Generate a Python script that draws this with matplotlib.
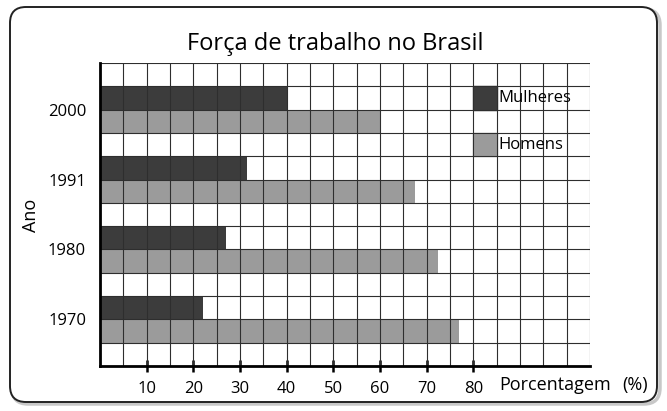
import numpy as np
import matplotlib
matplotlib.use("Agg")
import matplotlib.pyplot as plt
from matplotlib.patches import FancyBboxPatch, Rectangle
from matplotlib.transforms import IdentityTransform

plt.rcParams["font.family"] = ["Open Sans", "DejaVu Sans"]

# data
anos = ["1970", "1980", "1991", "2000"]
mulheres = [22, 27, 31.5, 40]
homens = [77, 72.5, 67.5, 60]

titulo = "Força de trabalho no Brasil"
xticks = [10, 20, 30, 40, 50, 60, 70, 80]

COR_M = "#3c3c3c"
COR_H = "#9b9b9b"

W, H = 667, 411
fig = plt.figure(figsize=(W / 100, H / 100), dpi=100)

# rounded frame around everything (pixel coords)
shadow = FancyBboxPatch((12, 7), 648, 395, boxstyle="round,pad=0,rounding_size=16",
                        transform=IdentityTransform(), fc="none", ec="#c8c8c8", lw=2.5,
                        zorder=-2)
frame = FancyBboxPatch((10, 9), 647, 395, boxstyle="round,pad=0,rounding_size=16",
                       transform=IdentityTransform(), fc="white", ec="#222222", lw=1.4,
                       zorder=-1)
fig.patches.extend([shadow, frame])

ax = fig.add_axes([100 / W, (H - 366) / H, 490 / W, 303 / H])
ax.set_zorder(1)
ax.set_xlim(0, 105)
ax.set_ylim(0, 13)

base = np.arange(len(anos)) * 3 + 1
ax.barh(base, homens, height=1, align="edge", color=COR_H, zorder=1)
ax.barh(base + 1, mulheres, height=1, align="edge", color=COR_M, zorder=1)

# grid of square cells, drawn over the bars
ax.xaxis.remove_overlapping_locs = False
ax.yaxis.remove_overlapping_locs = False
ax.set_xticks(np.arange(0, 106, 5), minor=True)
ax.set_yticks(np.arange(0, 14, 1), minor=True)
ax.set_axisbelow(False)
ax.grid(which="minor", color="#2e2e2e", lw=0.8)
ax.tick_params(which="minor", length=0)

ax.set_xticks(xticks)
ax.set_xticklabels([str(v) for v in xticks], fontsize=12)
ax.tick_params(axis="x", which="major", direction="inout", length=9, width=1.8, pad=6)

ax.set_yticks(base + 1)
ax.set_yticklabels(anos, fontsize=12)
ax.tick_params(axis="y", which="major", length=0, pad=10)

for s in ("top", "right"):
    ax.spines[s].set_visible(False)
for s in ("left", "bottom"):
    ax.spines[s].set_linewidth(2)
    ax.spines[s].set_zorder(3)

# legend drawn in the grid
ax.add_patch(Rectangle((80, 11), 5, 1, color=COR_M, zorder=1))
ax.add_patch(Rectangle((80, 9), 5, 1, color=COR_H, zorder=1))
ax.text(85.4, 11.5, "Mulheres", fontsize=12, va="center", ha="left", zorder=4)
ax.text(85.4, 9.5, "Homens", fontsize=12, va="center", ha="left", zorder=4)

fig.text(335 / W, 1 - 44 / H, titulo, fontsize=17, ha="center", va="center")
fig.text(499 / W, 1 - 385 / H, "Porcentagem", fontsize=13, ha="left", va="center")
fig.text(622 / W, 1 - 385 / H, "(%)", fontsize=13, ha="left", va="center")
fig.text(31 / W, 1 - 215 / H, "Ano", fontsize=13, rotation=90, ha="center", va="center")

fig.savefig("out.png", dpi=100)
